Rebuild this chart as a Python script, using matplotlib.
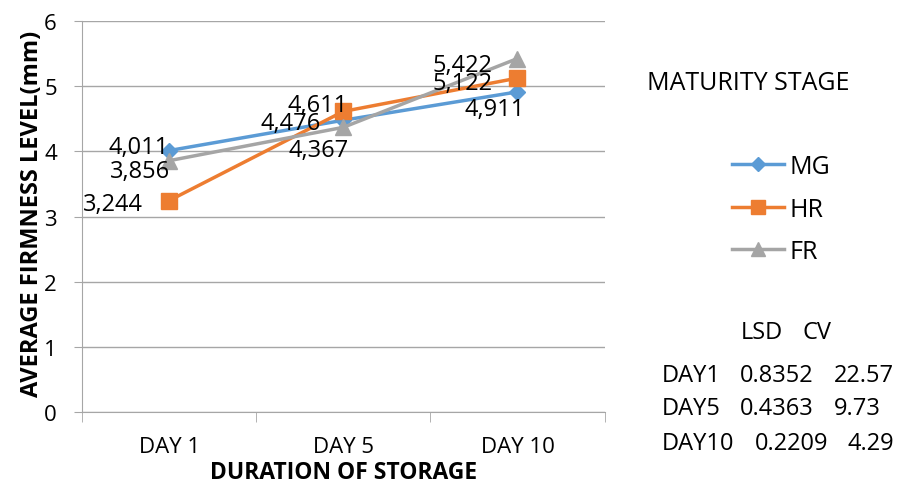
import numpy as np
import matplotlib.pyplot as plt
from matplotlib.lines import Line2D

plt.rcParams['font.family'] = ['Open Sans', 'DejaVu Sans']

# Data
days = ['DAY 1', 'DAY 5', 'DAY 10']
mg = [4.011, 4.476, 4.911]
hr = [3.244, 4.611, 5.122]
fr = [3.856, 4.367, 5.422]
series_names = ['MG', 'HR', 'FR']
lsd_days = ['DAY1', 'DAY5', 'DAY10']
lsd = ['0.8352', '0.4363', '0.2209']
cv = ['22.57', '9.73', '4.29']

colors = ['#5B9BD5', '#ED7D31', '#A5A5A5']
markers = ['D', 's', '^']
msizes = [8, 11, 11]

fig = plt.figure(figsize=(9.01, 4.85), dpi=100)
ax = fig.add_axes([0.091, 0.148, 0.580, 0.807])

x = np.arange(len(days))
for vals, c, m, ms in zip([mg, hr, fr], colors, markers, msizes):
    ax.plot(x, vals, color=c, lw=2.5, marker=m, ms=ms, zorder=3)

def fmt(v):
    return f'{v:.3f}'.replace('.', ',')

# data label offsets in points (dx from point to right edge of text, dy of text centre)
offsets = {
    ('MG', 0): (0, 5), ('FR', 0): (0.7, -5.3), ('HR', 0): (-19, 0),
    ('MG', 1): (-16.5, 0), ('HR', 1): (3.6, 6.5), ('FR', 1): (3.6, -14.5),
    ('FR', 2): (-18, -2.5), ('HR', 2): (-18, -1.5), ('MG', 2): (5, -10),
}
for name, vals in zip(series_names, [mg, hr, fr]):
    for i, v in enumerate(vals):
        dx, dy = offsets[(name, i)]
        ax.annotate(fmt(v), (x[i], v), xytext=(dx, dy), textcoords='offset points',
                    ha='right', va='center_baseline', fontsize=17, color='#000000', zorder=5)

ax.set_xlim(-0.5, 2.5)
ax.set_ylim(0, 6)
ax.set_yticks(range(0, 7))
ax.set_xticks(x)
ax.set_xticklabels(days)
ax.set_xticks([-0.5, 0.5, 1.5, 2.5], minor=True)
ax.tick_params(axis='x', which='major', length=0, labelsize=16, pad=17)
ax.tick_params(axis='x', which='minor', length=7, color='#A6A6A6')
ax.tick_params(axis='y', length=6, color='#A6A6A6', labelsize=16, pad=12)
ax.grid(axis='y', color='#A6A6A6', lw=1)
ax.set_axisbelow(True)
for s in ['top', 'right']:
    ax.spines[s].set_visible(False)
for s in ['left', 'bottom']:
    ax.spines[s].set_color('#A6A6A6')

ax.set_xlabel('DURATION OF STORAGE', fontsize=16.5, fontweight='bold', va='center')
ax.xaxis.set_label_coords(0.5, -0.152)
ax.set_ylabel('AVERAGE FIRMNESS LEVEL(mm)', fontsize=17, fontweight='bold', va='center')
ax.yaxis.set_label_coords(-0.095, 0.51)

# legend
fig.text(0.718, 0.827, 'MATURITY STAGE', fontsize=18, va='center')
handles = [Line2D([0], [0], color=c, lw=2.5, marker=m, ms=ms * 0.95)
           for c, m, ms in zip(colors, markers, msizes)]
fig.legend(handles, series_names, loc='center left', bbox_to_anchor=(0.812, 0.567),
           frameon=False, fontsize=18, handlelength=2.1, handletextpad=0.2,
           labelspacing=0.7, borderpad=0, borderaxespad=0)

# LSD / CV table
fig.text(0.822, 0.313, 'LSD', fontsize=17, va='center')
fig.text(0.891, 0.313, 'CV', fontsize=17, va='center')
row_y = [0.225, 0.157, 0.085]
lsd_x = [0.821, 0.821, 0.838]
cv_x = [0.925, 0.925, 0.941]
for d, l, c, yy, lx, cx in zip(lsd_days, lsd, cv, row_y, lsd_x, cv_x):
    fig.text(0.734, yy, d, fontsize=17, va='center')
    fig.text(lx, yy, l, fontsize=17, va='center')
    fig.text(cx, yy, c, fontsize=17, va='center')

fig.savefig('out.png', dpi=100)
